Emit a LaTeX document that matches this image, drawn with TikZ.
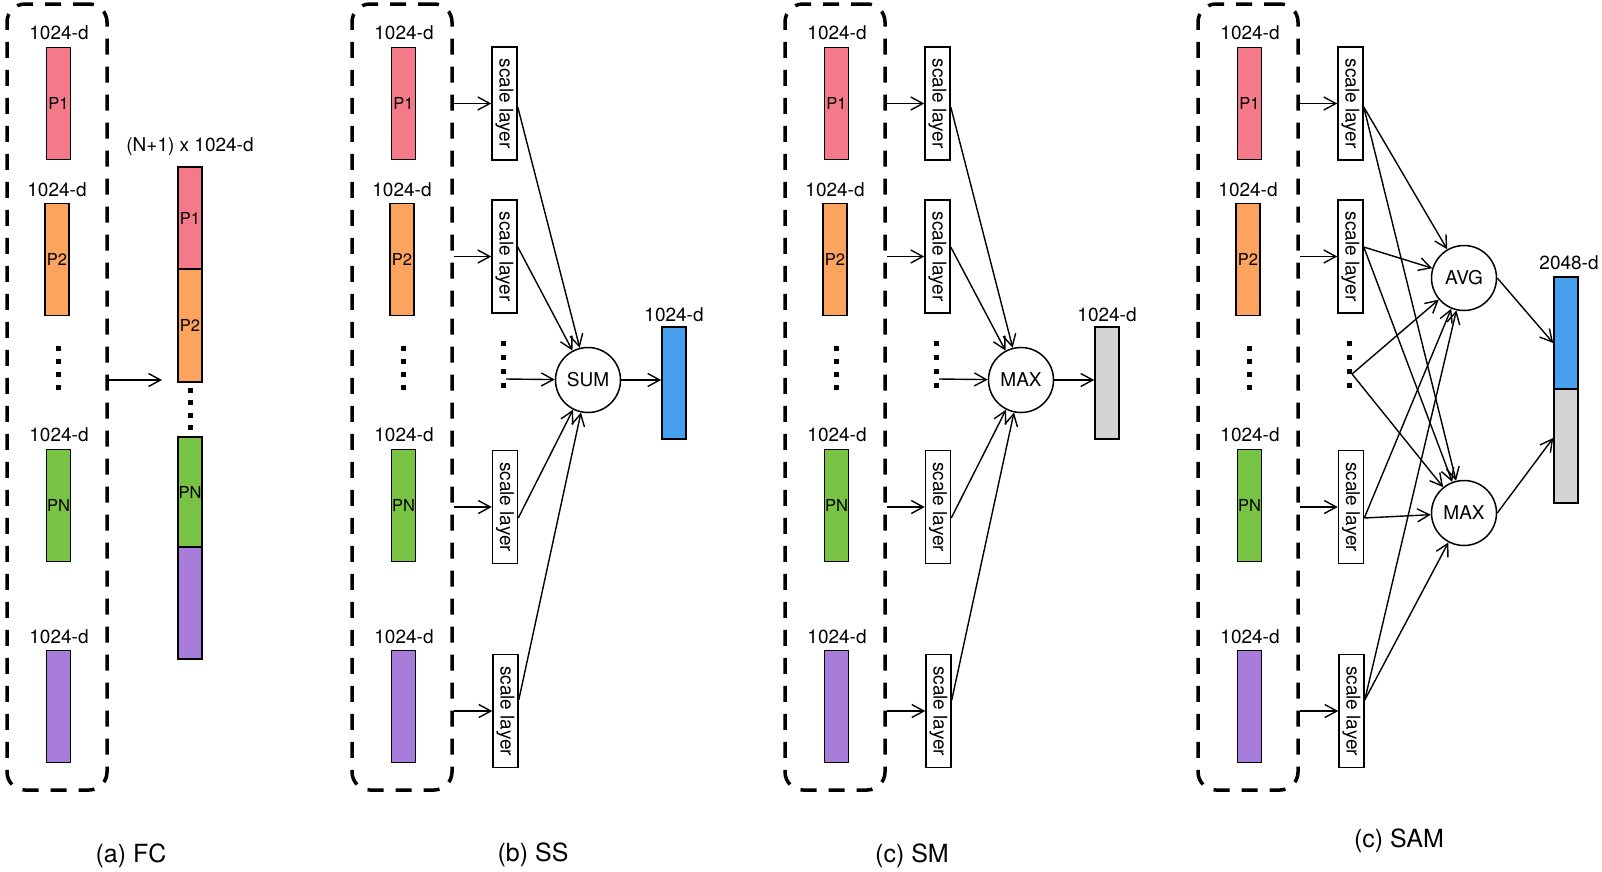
\documentclass[tikz,border=0pt]{standalone}
\usepackage{fontspec}
\setmainfont{TeX Gyre Heros}
\usetikzlibrary{arrows.meta,calc}
\definecolor{cPa}{HTML}{F47A8A}
\definecolor{cPb}{HTML}{FCA35D}
\definecolor{cPn}{HTML}{78C244}
\definecolor{cPu}{HTML}{A77DD9}
\definecolor{cBl}{HTML}{46A0EE}
\definecolor{cGr}{HTML}{D4D4D4}
\tikzset{
  vec/.style={draw, line width=1.6pt, minimum width=24pt, minimum height=112pt, inner sep=0pt, font=\fontsize{16.5}{18}\selectfont},
  lab/.style={inner sep=0pt, font=\fontsize{19}{21}\selectfont},
  captext/.style={inner sep=0pt, font=\fontsize{25}{28}\selectfont},
  dbox/.style={draw, line width=3.5pt, dash pattern=on 16pt off 12pt, rounded corners=18pt, inner sep=0pt},
  sbox/.style={draw, fill=white, line width=1.5pt, minimum width=25pt, minimum height=113pt, inner sep=0pt, font=\fontsize{19}{21}\selectfont},
  opnode/.style={draw, circle, line width=1.5pt, minimum size=65pt, inner sep=0pt, font=\fontsize{19}{21}\selectfont},
  arr/.style={line width=1.4pt, -{Straight Barb[length=12pt,width=13pt]}}
}
\newcommand\mydots[3]{\foreach \k in {0,...,3}{\fill ({#1-2.5},{#2+\k*#3-2.5}) rectangle ++(5,5);}}
% dashed box + P column (b coordinates, shifted)
\newcommand\pcol[2]{%
\begin{scope}[xshift=#1pt]
\node[dbox, minimum width=100pt, minimum height=786pt] (#2d) at (402,397) {};
\node[vec, fill=cPa] (#2p1) at (403.5,103.5) {P1};
\node[lab] (#2l1) at (404,33) {1024-d};
\node[vec, fill=cPb] (#2p2) at (402,259.5) {P2};
\node[lab] (#2l2) at (402,190) {1024-d};
\mydots{403}{348}{13}
\node[vec, fill=cPn] (#2pn) at (403.5,505.5) {PN};
\node[lab] (#2ln) at (404,435) {1024-d};
\node[vec, fill=cPu] (#2pu) at (403.5,706.5) {};
\node[lab] (#2lu) at (404,637) {1024-d};
\end{scope}}
% scale layer column
\newcommand\scol[2]{%
\begin{scope}[xshift=#1pt]
\node[sbox] (#2s1) at (504.5,103.5) {\rotatebox{-90}{scale layer}};
\node[sbox] (#2s2) at (504.5,256.5) {\rotatebox{-90}{scale layer}};
\node[sbox] (#2s3) at (505,507) {\rotatebox{-90}{scale layer}};
\node[sbox] (#2s4) at (505.5,711) {\rotatebox{-90}{scale layer}};
\mydots{503}{343}{14}
\end{scope}
\foreach \i in {1,2,3,4}{\draw[arr] (#2d.east |- #2s\i.west) -- (#2s\i.west);}
\coordinate (#2a1) at ([yshift=-3.5pt]#2s1.east);
\coordinate (#2a2) at ([yshift=9.5pt]#2s2.east);
\coordinate (#2a3) at ([yshift=-11pt]#2s3.east);
\coordinate (#2a4) at ([yshift=11pt]#2s4.east);
}
\begin{document}
\begin{tikzpicture}[x=1pt,y=-1pt]
\useasboundingbox (0,0) rectangle (1602,871);
\fill[white] (0,0) rectangle (1602,871);

% ---------- (a) FC ----------
\pcol{-345}{a}
\node[lab] (acl) at (190,147) {(N+1) x 1024-d};
\node[vec, fill=cPa, minimum height=102pt] (ac1) at (190,218) {P1};
\node[vec, fill=cPb, minimum height=113pt] (ac2) at (190,325.5) {P2};
\mydots{190}{390}{12.5}
\node[vec, fill=cPn, minimum height=110pt] (acn) at (190,492) {PN};
\node[vec, fill=cPu, minimum height=112pt] (acu) at (190,603) {};
\coordinate (aend) at (162,380);
\draw[arr] (ad.east |- aend) -- (aend);
\node[captext] (capa) at (131,856) {(a) FC};

% ---------- (b) SS ----------
\pcol{0}{b}
\scol{0}{b}
\node[opnode] (bop) at (588,380) {SUM};
\coordinate (bds) at (506,379);
\node[vec, fill=cBl] (bo) at (674,383) {};
\node[lab] (bol) at (674,315) {1024-d};
\foreach \i in {1,2,3,4}{\draw[arr] (ba\i) -- (bop);}
\draw[arr] (bds) -- (bop);
\draw[arr] (bop.east) -- (bop.east -| bo.west);
\node[captext] (capb) at (533,855) {(b) SS};

% ---------- (c) SM ----------
\pcol{433}{c}
\scol{433}{c}
\node[opnode] (cop) at (1021,380) {MAX};
\coordinate (cds) at (939,379);
\node[vec, fill=cGr] (co) at (1107,383) {};
\node[lab] (col) at (1107,315) {1024-d};
\foreach \i in {1,2,3,4}{\draw[arr] (ca\i) -- (cop);}
\draw[arr] (cds) -- (cop);
\draw[arr] (cop.east) -- (cop.east -| co.west);
\node[captext] (capc) at (912,856) {(c) SM};

% ---------- (c) SAM ----------
\pcol{846}{d}
\scol{846}{d}
\coordinate (dds) at (1352,374);
\node[opnode] (davg) at (1464,278) {AVG};
\node[opnode] (dmax) at (1464,513) {MAX};
\node[vec, fill=cBl, minimum height=112pt] (do1) at (1566,333) {};
\node[vec, fill=cGr, minimum height=114pt] (do2) at (1566,446) {};
\node[lab] (dol) at (1569,263) {2048-d};
\foreach \i in {1,2,3,4}{\draw[arr] (da\i) -- (davg); \draw[arr] (da\i) -- (dmax);}
\draw[arr] (dds) -- (davg);
\draw[arr] (dds) -- (dmax);
\draw[arr] (davg.east) -- ([yshift=-10pt]do1.west);
\draw[arr] (dmax.east) -- ([yshift=8pt]do2.west);
\node[captext] (capd) at (1399,841) {(c) SAM};
\end{tikzpicture}
\end{document}
